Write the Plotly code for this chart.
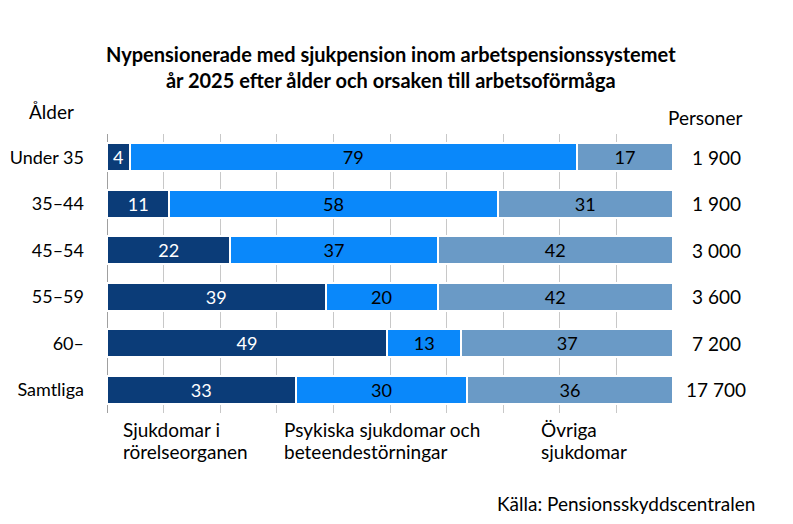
import plotly.graph_objects as go

categories = ["Under 35", "35–44", "45–54", "55–59", "60–", "Samtliga"]
sjukdomar_rorelse = [4, 11, 22, 39, 49, 33]
psykiska = [79, 58, 37, 20, 13, 30]
ovriga = [17, 31, 42, 42, 37, 36]
personer = ["1 900", "1 900", "3 000", "3 600", "7 200", "17 700"]
series_names = ["Sjukdomar i|rörelseorganen", "Psykiska sjukdomar och|beteendestörningar", "Övriga|sjukdomar"]

FONT = "Lato, Carlito, Liberation Sans, sans-serif"
colors = ["#0B3C78", "#0A88FA", "#6A9AC6"]
text_colors = ["white", "black", "black"]
FS = 19

# page has an 8px body margin, so figure is 8px smaller and positions are offset
W, H = 785, 516
L, T = 99, 126
PW, PH = 566, 279
R, B = W - L - PW, H - T - PH


def px(x):  # reference pixel x -> paper
    return (x - 107) / PW


def py(y):  # reference pixel y -> paper
    return (413 - y) / PH


fig = go.Figure()
for vals, name, col, tcol in zip([sjukdomar_rorelse, psykiska, ovriga], series_names, colors, text_colors):
    fig.add_trace(go.Bar(
        y=categories, x=vals, orientation="h", name=name.replace("|", " "),
        marker=dict(color=col, line=dict(color="white", width=2)),
        text=[str(v) for v in vals], textposition="inside", insidetextanchor="middle",
        textfont=dict(color=tcol, size=FS, family=FONT),
        textangle=0, cliponaxis=False,
    ))

fig.update_layout(
    barmode="stack", barnorm="percent", bargap=0.4,
    width=W, height=H,
    margin=dict(l=L, r=R, t=T, b=B, autoexpand=False),
    paper_bgcolor="white", plot_bgcolor="white",
    showlegend=False,
    font=dict(family=FONT, size=FS, color="black"),
)
fig.update_xaxes(range=[0, 100], dtick=10, showgrid=True, gridcolor="#C8C8C8", gridwidth=1, automargin=False,
                 showticklabels=False, zeroline=True, zerolinecolor="#A0A0A0", zerolinewidth=1, fixedrange=True)
fig.update_yaxes(autorange="reversed", showgrid=False, ticks="", ticklabelstandoff=22, automargin=False,
                 tickfont=dict(size=18, family=FONT, color="black"))

f = dict(size=FS, family=FONT, color="black")
ann = []
ann.append(dict(text="<b>Nypensionerade med sjukpension inom arbetspensionssystemet<br>år 2025 efter ålder och orsaken till arbetsoförmåga</b>",
                x=px(391), y=py(67), xref="paper", yref="paper", xanchor="center", yanchor="middle",
                showarrow=False, font=dict(size=20, family=FONT, color="black")))
ann.append(dict(text="Ålder", x=px(27), y=py(111), xref="paper", yref="paper",
                xanchor="left", yanchor="middle", showarrow=False, font=f))
for c, p in zip(categories, personer):
    ann.append(dict(text=p, x=px(716), y=c, xref="paper", yref="y", xanchor="center",
                    showarrow=False, font=f))
ann.append(dict(text="Personer", x=px(705), y=py(118), xref="paper", yref="paper", xanchor="center",
                yanchor="middle", showarrow=False, font=f))
legend_x = [121, 282, 539]
for name, lx in zip(series_names, legend_x):
    for line, ly in zip(name.split("|"), [429, 451]):
        ann.append(dict(text=line, x=px(lx), y=py(ly), xref="paper", yref="paper",
                        xanchor="left", yanchor="middle", align="left", showarrow=False, font=f))
ann.append(dict(text="Källa: Pensionsskyddscentralen", x=px(757), y=py(503), xref="paper", yref="paper",
                xanchor="right", yanchor="middle", showarrow=False, font=f))
fig.update_layout(annotations=ann)

fig.write_html("out.html")
